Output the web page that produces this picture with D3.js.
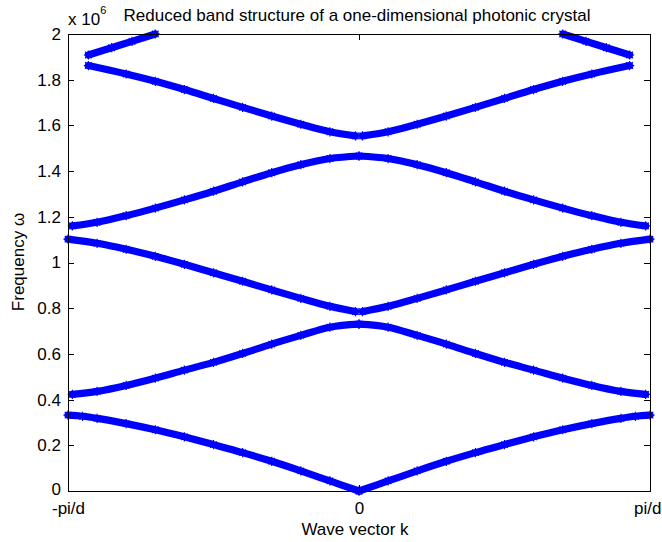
<!DOCTYPE html>
<html>
<head>
<meta charset="utf-8">
<script src="https://cdn.jsdelivr.net/npm/d3@7"></script>
<style>
  body { margin: 0; background: #fff; }
  svg text { font-family: "Liberation Sans", Arial, Helvetica, sans-serif; fill: #000; }
</style>
</head>
<body>
<svg id="chart" width="662" height="542"></svg>
<script>
// Wave vector k in units of pi/d (k >= 0 half of the zone; bands are even in k)
// Frequency omega in units of 10^6
const band1K = [0, 0.1, 0.2, 0.3, 0.4, 0.5, 0.6, 0.7, 0.8, 0.9, 0.95, 1.0];
const band1W = [0, 0.044, 0.088, 0.130, 0.168, 0.203, 0.237, 0.268, 0.295, 0.318, 0.327, 0.332];

const band2K = [0, 0.1, 0.2, 0.3, 0.4, 0.5, 0.6, 0.7, 0.8, 0.9, 0.985];
const band2W = [0.730, 0.717, 0.681, 0.643, 0.602, 0.563, 0.529, 0.494, 0.462, 0.436, 0.423];

const band3K = [0.012, 0.1, 0.2, 0.3, 0.4, 0.5, 0.6, 0.7, 0.8, 0.9, 1.0];
const band3W = [0.785, 0.808, 0.843, 0.880, 0.918, 0.955, 0.992, 1.027, 1.058, 1.084, 1.102];

const band4K = [0, 0.1, 0.2, 0.3, 0.4, 0.5, 0.6, 0.7, 0.8, 0.9, 0.985];
const band4W = [1.466, 1.455, 1.428, 1.393, 1.353, 1.312, 1.274, 1.238, 1.205, 1.176, 1.160];

const band5K = [0.012, 0.1, 0.2, 0.3, 0.4, 0.5, 0.6, 0.7, 0.8, 0.93];
const band5W = [1.554, 1.572, 1.605, 1.641, 1.679, 1.718, 1.757, 1.793, 1.825, 1.862];

const band6K = [0.93, 0.85, 0.78, 0.70];
const band6W = [1.908, 1.940, 1.968, 2.0];

const kTicks = [-1, 0, 1];
const kTickLabels = ["-pi/d", "0", "pi/d"];
const wTicks = [0, 0.2, 0.4, 0.6, 0.8, 1, 1.2, 1.4, 1.6, 1.8, 2];
const wTickLabels = ["0", "0.2", "0.4", "0.6", "0.8", "1", "1.2", "1.4", "1.6", "1.8", "2"];

const bandList = [
  [band1K, band1W], [band2K, band2W], [band3K, band3W],
  [band4K, band4W], [band5K, band5W], [band6K, band6W]
];

const svg = d3.select("#chart");
const plotLeft = 68, plotRight = 650, plotTop = 34, plotBottom = 491;
const x = d3.scaleLinear().domain([-1, 1]).range([plotLeft, plotRight]);
const y = d3.scaleLinear().domain([0, 2]).range([plotBottom, plotTop]);

const blue = "#0000ff";
const line = d3.line().x(d => x(d[0])).y(d => y(d[1])).curve(d3.curveCatmullRom.alpha(0.5));

// asterisk marker, like a '*' plot symbol
function asterisk(r) {
  const a = r * Math.SQRT1_2;
  return `M${-r},0L${r},0M0,${-r}L0,${r}M${-a},${-a}L${a},${a}M${-a},${a}L${a},${-a}`;
}

const bandsG = svg.append("g");
bandList.forEach(([ks, ws]) => {
  [-1, 1].forEach(s => {
    const pts = ks.map((k, i) => [s * k, ws[i]]);
    bandsG.append("path")
      .attr("d", line(pts))
      .attr("fill", "none")
      .attr("stroke", blue)
      .attr("stroke-width", 7.2)
      .attr("stroke-linecap", "round")
      .attr("stroke-linejoin", "round");
    bandsG.selectAll(null).data(pts).enter().append("path")
      .attr("transform", d => `translate(${x(d[0])},${y(d[1])})`)
      .attr("d", asterisk(4.6))
      .attr("stroke", blue)
      .attr("stroke-width", 1.2)
      .attr("fill", "none");
  });
});

// axes box and inward ticks
const axG = svg.append("g").attr("shape-rendering", "crispEdges");
axG.append("rect")
  .attr("x", plotLeft).attr("y", plotTop)
  .attr("width", plotRight - plotLeft).attr("height", plotBottom - plotTop)
  .attr("fill", "none").attr("stroke", "#000").attr("stroke-width", 1);

const fmtW = (d) => wTickLabels[wTicks.indexOf(d)];
const fmtK = (d) => kTickLabels[kTicks.indexOf(d)];

const yAxisL = axG.append("g").attr("transform", `translate(${plotLeft},0)`)
  .call(d3.axisLeft(y).tickValues(wTicks).tickFormat(fmtW).tickSizeInner(-6).tickSizeOuter(0).tickPadding(7));
const yAxisR = axG.append("g").attr("transform", `translate(${plotRight},0)`)
  .call(d3.axisRight(y).tickValues(wTicks).tickFormat("").tickSizeInner(-6).tickSizeOuter(0));
const xAxisB = axG.append("g").attr("transform", `translate(0,${plotBottom})`)
  .call(d3.axisBottom(x).tickValues(kTicks).tickFormat(fmtK).tickSizeInner(-6).tickSizeOuter(0));
const xAxisT = axG.append("g").attr("transform", `translate(0,${plotTop})`)
  .call(d3.axisTop(x).tickValues(kTicks).tickFormat("").tickSizeInner(-6).tickSizeOuter(0));

[yAxisL, yAxisR, xAxisB, xAxisT].forEach(g => {
  g.select(".domain").remove();
  g.selectAll("line").attr("stroke", "#000");
  g.selectAll("text").attr("fill", "#000").style("font-size", "17px")
    .style("font-family", '"Liberation Sans", Arial, Helvetica, sans-serif');
});
// lift the bottom y label a little so it clears the k label beneath it
yAxisL.selectAll(".tick").filter(d => d === 0).select("text").attr("dy", "0.2em");
xAxisB.selectAll("text").attr("y", 23).attr("dy", null);
// keep the right-hand label inside the page
xAxisB.selectAll(".tick").filter(d => d === 1).select("text")
  .attr("text-anchor", "end").attr("x", 661 - plotRight);

// titles and labels
svg.append("text")
  .attr("x", 357).attr("y", 21)
  .attr("text-anchor", "middle")
  .style("font-size", "17px")
  .text("Reduced band structure of a one-dimensional photonic crystal");

const expo = svg.append("text").attr("x", 68).attr("y", 25).style("font-size", "17px");
expo.append("tspan").text("x 10");
expo.append("tspan").attr("dy", -11).style("font-size", "11px").text("6");

svg.append("text")
  .attr("x", 355).attr("y", 535)
  .attr("text-anchor", "middle")
  .style("font-size", "17px")
  .text("Wave vector k");

svg.append("text")
  .attr("transform", "translate(24,262) rotate(-90)")
  .attr("text-anchor", "middle")
  .style("font-size", "17px")
  .text("Frequency ω");
</script>
</body>
</html>
